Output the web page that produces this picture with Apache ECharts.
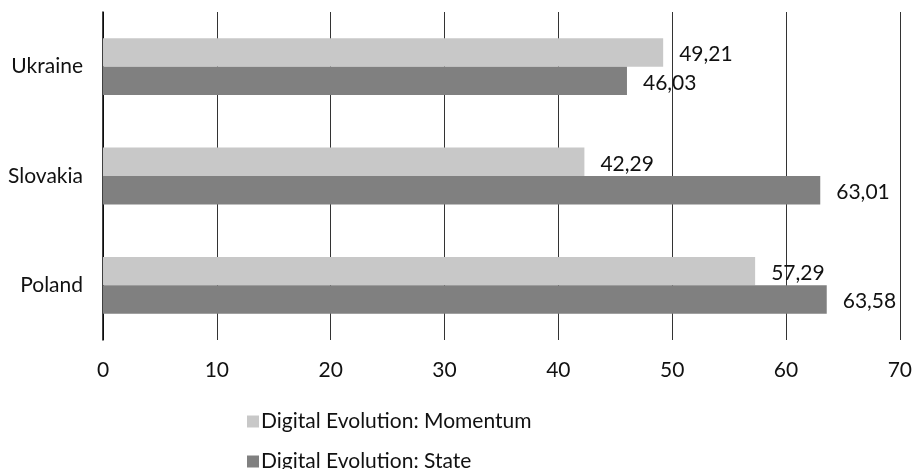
<!DOCTYPE html>
<html><head><meta charset="utf-8">
<script src="https://cdn.jsdelivr.net/npm/echarts@6/dist/echarts.min.js"></script>
<style>html,body{margin:0;padding:0;background:#fff}#c{width:915px;height:469px}</style>
</head><body><div id="c"></div>
<script>
const categories = ['Poland', 'Slovakia', 'Ukraine'];
const momentum = [57.29, 42.29, 49.21];
const state = [63.58, 63.01, 46.03];
const seriesNames = ['Digital Evolution: Momentum', 'Digital Evolution: State'];
const xTicks = { min: 0, max: 70, interval: 10 };

const FS = 21;
const chart = echarts.init(document.getElementById('c'));
const fmt = p => String(p.value.toFixed(2)).replace('.', ',');
const labelStyle = { show: true, position: 'right', distance: 16, offset: [0, 2], fontSize: FS, color: '#111', fontFamily: 'Lato', formatter: fmt };
const legendBase = {
  orient: 'vertical', left: 242, itemWidth: 12, itemHeight: 12, icon: 'rect',
  textStyle: { fontSize: FS, color: '#111', fontFamily: 'Lato', padding: [0, 0, 0, -3] }
};
chart.setOption({
  animation: false,
  textStyle: { fontFamily: 'Lato' },
  grid: { left: 103, right: 15, top: 12, bottom: 129, containLabel: false },
  legend: [
    Object.assign({}, legendBase, { top: 406, data: [seriesNames[0]] }),
    Object.assign({}, legendBase, { top: 446, data: [seriesNames[1]] })
  ],
  xAxis: {
    type: 'value', min: xTicks.min, max: xTicks.max, interval: xTicks.interval,
    axisLine: { show: false }, axisTick: { show: false },
    splitLine: { show: true, lineStyle: { color: '#333', width: 1 } },
    axisLabel: { fontSize: FS, color: '#111', margin: 20, fontFamily: 'Lato' }
  },
  yAxis: {
    type: 'category', data: categories,
    axisLine: { show: true, lineStyle: { color: '#000', width: 1.5 } },
    axisTick: { show: false },
    axisLabel: { fontSize: FS, color: '#111', margin: 20, fontFamily: 'Lato' }
  },
  series: [
    { name: seriesNames[0], type: 'bar', data: momentum, barGap: '0%', barCategoryGap: '48%',
      itemStyle: { color: '#c8c8c8' }, label: labelStyle },
    { name: seriesNames[1], type: 'bar', data: state, barGap: '0%', barCategoryGap: '48%',
      itemStyle: { color: '#808080' }, label: labelStyle }
  ]
});
</script></body></html>
